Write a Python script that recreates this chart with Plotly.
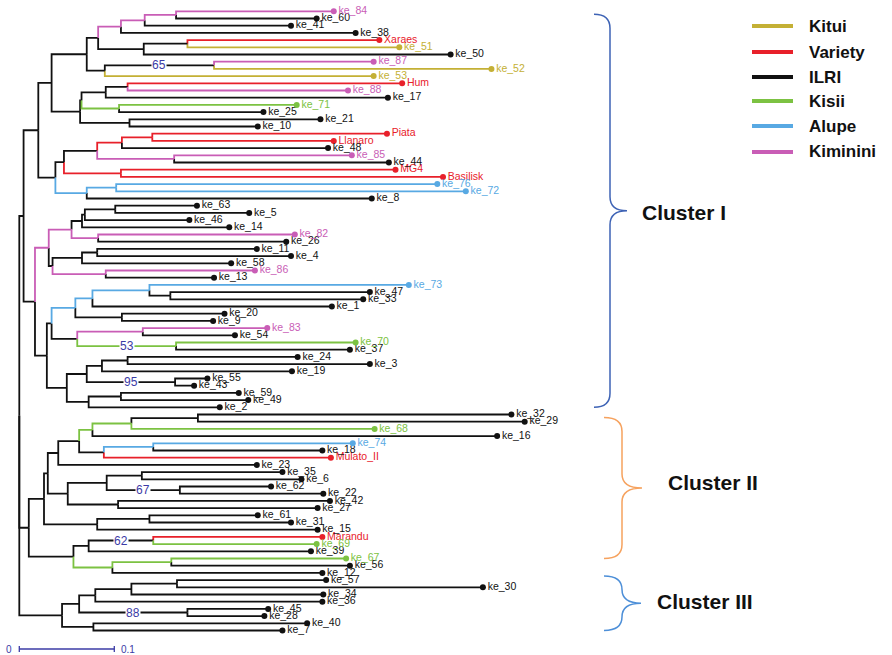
import plotly.graph_objects as go

# ---------------- data ----------------
groups = ["Kitui", "Variety", "ILRI", "Kisii", "Alupe", "Kiminini"]
group_colors = ["#c4b035", "#e8202a", "#111111", "#7cc242", "#58a9e3", "#c95db6"]

# leaves in drawing order (top to bottom), group index, and root-to-tip distance
leaves = ["ke_84", "ke_60", "ke_41", "ke_38", "Xaraes", "ke_51", "ke_50", "ke_87", "ke_52", "ke_53",
          "Hum", "ke_88", "ke_17", "ke_71", "ke_25", "ke_21", "ke_10", "Piata", "Llanaro", "ke_48",
          "ke_85", "ke_44", "MG4", "Basilisk", "ke_76", "ke_72", "ke_8", "ke_63", "ke_5", "ke_46",
          "ke_14", "ke_82", "ke_26", "ke_11", "ke_4", "ke_58", "ke_86", "ke_13", "ke_73", "ke_47",
          "ke_33", "ke_1", "ke_20", "ke_9", "ke_83", "ke_54", "ke_70", "ke_37", "ke_24", "ke_3",
          "ke_19", "ke_55", "ke_43", "ke_59", "ke_49", "ke_2", "ke_32", "ke_29", "ke_68", "ke_16",
          "ke_74", "ke_18", "Mulato_II", "ke_23", "ke_35", "ke_6", "ke_62", "ke_22", "ke_42", "ke_27",
          "ke_61", "ke_31", "ke_15", "Marandu", "ke_69", "ke_39", "ke_67", "ke_56", "ke_12", "ke_57",
          "ke_30", "ke_34", "ke_36", "ke_45", "ke_28", "ke_40", "ke_7"]
leaf_group = [5, 2, 2, 2, 1, 0, 2, 5, 0, 0,
              1, 5, 2, 3, 2, 2, 2, 1, 1, 2,
              5, 2, 1, 1, 4, 4, 2, 2, 2, 2,
              2, 5, 2, 2, 2, 2, 5, 2, 4, 2,
              2, 2, 2, 2, 5, 2, 3, 2, 2, 2,
              2, 2, 2, 2, 2, 2, 2, 2, 3, 2,
              4, 2, 1, 2, 2, 2, 2, 2, 2, 2,
              2, 2, 2, 1, 3, 2, 3, 2, 2, 2,
              2, 2, 2, 2, 2, 2, 2]
leaf_depth = [0.331, 0.313, 0.286, 0.354, 0.379, 0.400, 0.454, 0.373, 0.497, 0.373,
              0.403, 0.346, 0.388, 0.292, 0.257, 0.317, 0.251, 0.387, 0.331, 0.325,
              0.350, 0.389, 0.396, 0.446, 0.440, 0.470, 0.371, 0.187, 0.242, 0.179,
              0.221, 0.290, 0.281, 0.250, 0.286, 0.223, 0.248, 0.205, 0.410, 0.369,
              0.362, 0.329, 0.216, 0.204, 0.261, 0.227, 0.354, 0.348, 0.293, 0.369,
              0.287, 0.198, 0.184, 0.231, 0.241, 0.211, 0.518, 0.532, 0.374, 0.503,
              0.351, 0.319, 0.328, 0.250, 0.277, 0.297, 0.265, 0.320, 0.327, 0.314,
              0.251, 0.286, 0.314, 0.319, 0.313, 0.307, 0.344, 0.348, 0.319, 0.323,
              0.488, 0.320, 0.319, 0.262, 0.258, 0.303, 0.277]

# internal nodes: name, children, root-to-node distance, branch colour group (2 = ILRI/black)
node_names = ["n1", "n2", "n3", "n4", "n5", "n6", "n7", "n8", "n9", "n10",
              "n11", "n12", "n13", "n14", "n15", "n16", "n17", "n18", "n19", "n20",
              "n21", "n22", "n23", "n24", "n25", "n26", "n27", "n28", "n29", "n30",
              "n31", "n32", "n33", "n34", "n35", "n36", "n37", "n38", "n39", "n40",
              "n41", "n42", "n43", "n44", "n45", "n46", "n47", "n48", "n49", "n50",
              "n51", "n52", "n53", "n54", "n55",
              "c1", "c2", "c3", "c4", "c5", "c6", "c7", "c8", "c9", "c10",
              "c11", "c12", "c13", "c14", "c15", "c16", "c17", "c18", "c19", "c20",
              "c21", "c22",
              "d1", "d2", "d3", "d4", "d5", "d6", "d7", "root"]
node_children = [["ke_84", "ke_60"], ["n1", "ke_41"], ["n2", "ke_38"], ["Xaraes", "ke_51"], ["n4", "ke_50"],
                 ["n3", "n5"], ["ke_87", "ke_52"], ["n7", "ke_53"], ["n6", "n8"], ["Hum", "ke_88"],
                 ["n10", "ke_17"], ["ke_71", "ke_25"], ["n11", "n12"], ["ke_21", "ke_10"], ["n13", "n14"],
                 ["n9", "n15"], ["Piata", "Llanaro"], ["n17", "ke_48"], ["ke_85", "ke_44"], ["n18", "n19"],
                 ["MG4", "Basilisk"], ["n20", "n21"], ["ke_76", "ke_72"], ["n23", "ke_8"], ["n22", "n24"],
                 ["n16", "n25"], ["ke_63", "ke_5"], ["n27", "ke_46"], ["n28", "ke_14"], ["ke_82", "ke_26"],
                 ["n29", "n30"], ["ke_11", "ke_4"], ["n32", "ke_58"], ["ke_86", "ke_13"], ["n33", "n34"],
                 ["n31", "n35"], ["ke_47", "ke_33"], ["ke_73", "n37"], ["n38", "ke_1"], ["ke_20", "ke_9"],
                 ["n39", "n40"], ["ke_83", "ke_54"], ["ke_70", "ke_37"], ["n42", "n43"], ["n41", "n44"],
                 ["ke_24", "ke_3"], ["n46", "ke_19"], ["ke_55", "ke_43"], ["n47", "n48"], ["ke_59", "ke_49"],
                 ["n50", "ke_2"], ["n49", "n51"], ["n45", "n52"], ["n36", "n53"], ["n26", "n54"],
                 ["ke_32", "ke_29"], ["c1", "ke_68"], ["c2", "ke_16"], ["ke_74", "ke_18"], ["c4", "Mulato_II"],
                 ["c3", "c5"], ["c6", "ke_23"], ["ke_35", "ke_6"], ["ke_62", "ke_22"], ["c8", "c9"],
                 ["ke_42", "ke_27"], ["c10", "c11"], ["c7", "c12"], ["ke_61", "ke_31"], ["c14", "ke_15"],
                 ["c13", "c15"], ["Marandu", "ke_69"], ["c17", "ke_39"], ["ke_67", "ke_56"], ["c19", "ke_12"],
                 ["c18", "c20"], ["c16", "c21"],
                 ["ke_57", "ke_30"], ["d1", "ke_34"], ["d2", "ke_36"], ["ke_45", "ke_28"], ["d3", "d4"],
                 ["ke_40", "ke_7"], ["d5", "d6"], ["n55", "c22", "d7"]]
node_depth = [0.165, 0.132, 0.107, 0.177, 0.131, 0.083, 0.205, 0.090, 0.071, 0.114,
              0.091, 0.105, 0.0655, 0.116, 0.064, 0.034, 0.140, 0.108, 0.163, 0.082,
              0.107, 0.047, 0.102, 0.071, 0.038, 0.020, 0.101, 0.069, 0.066, 0.083,
              0.055, 0.082, 0.066, 0.091, 0.035, 0.031, 0.159, 0.137, 0.077, 0.108,
              0.059, 0.130, 0.165, 0.061, 0.034, 0.114, 0.087, 0.164, 0.071, 0.107,
              0.073, 0.050, 0.029, 0.0165, 0.0045,
              0.188, 0.118, 0.077, 0.141, 0.089, 0.063, 0.041, 0.129, 0.169, 0.092,
              0.104, 0.051, 0.030, 0.137, 0.082, 0.026, 0.141, 0.073, 0.160, 0.098,
              0.057, 0.010,
              0.166, 0.118, 0.080, 0.177, 0.063, 0.078, 0.045, 0.0]
node_group = [5, 5, 5, 2, 2, 2, 2, 2, 2, 2,
              2, 3, 2, 2, 2, 2, 1, 1, 5, 2,
              1, 2, 4, 4, 2, 2, 2, 2, 2, 5,
              5, 2, 2, 5, 2, 5, 2, 4, 4, 2,
              4, 5, 3, 2, 2, 2, 2, 2, 2, 2,
              2, 2, 2, 2, 2,
              2, 3, 3, 4, 2, 2, 2, 2, 2, 2,
              2, 2, 2, 2, 2, 2, 2, 2, 3, 3,
              2, 2,
              2, 2, 2, 2, 2, 2, 2, 2]

bootstrap_nodes = ["n7", "n43", "n48", "c9", "c17", "d4"]
bootstrap_values = [65, 53, 95, 67, 62, 88]

clusters = ["Cluster I", "Cluster II", "Cluster III"]
cluster_first = ["ke_84", "ke_32", "ke_12"]
cluster_last = ["ke_2", "ke_67", "ke_7"]
cluster_colors = ["#3e63b5", "#f6a25e", "#4d8fd8"]

scale_length = 0.1

# ---------------- layout helpers ----------------
W, H = 892, 655
PX_PER_UNIT = 950.0
ROOT_PX = 19.3
Y0_PX, DY_PX = 11.3, 7.2

x_range = [-ROOT_PX / PX_PER_UNIT, (W - ROOT_PX) / PX_PER_UNIT]
y_range = [(H - Y0_PX) / DY_PX, -Y0_PX / DY_PX]


def px_x(px):
    return px / W


def px_y(py):
    return 1 - py / H


def idx_to_py(i):
    return Y0_PX + DY_PX * i


# ---------------- tree geometry ----------------
depth = {}
group_of = {}
children = {}
for name, g, d in zip(leaves, leaf_group, leaf_depth):
    depth[name] = d
    group_of[name] = g
for name, ch, d, g in zip(node_names, node_children, node_depth, node_group):
    depth[name] = d
    group_of[name] = g
    children[name] = ch

ypos = {}
order = []


def assign(n):
    if n not in children:
        ypos[n] = len(order)
        order.append(n)
        return ypos[n]
    ys = [assign(c) for c in children[n]]
    ypos[n] = (ys[0] + ys[-1]) / 2
    return ypos[n]


assign("root")

segs = {g: ([], []) for g in range(len(groups))}
for p, chs in children.items():
    for c in chs:
        xs, ys = segs[group_of[c]]
        xs += [depth[p], depth[p], depth[c], None]
        ys += [ypos[p], ypos[c], ypos[c], None]

fig = go.Figure()
for g in range(len(groups)):
    xs, ys = segs[g]
    if xs:
        fig.add_trace(go.Scatter(x=xs, y=ys, mode="lines", hoverinfo="skip",
                                 line=dict(color=group_colors[g], width=1.8), showlegend=False))

for g in range(len(groups)):
    names = [l for l in leaves if group_of[l] == g]
    fig.add_trace(go.Scatter(
        x=[depth[l] for l in names], y=[ypos[l] for l in names],
        mode="markers+text", text=names, textposition="middle right",
        marker=dict(color=group_colors[g], size=6),
        textfont=dict(family="Liberation Sans, Arial", size=10.5, color=group_colors[g]),
        showlegend=False, hoverinfo="text"))

# bootstrap values on branches
parent_of = {c: p for p, chs in children.items() for c in chs}
for n, v in zip(bootstrap_nodes, bootstrap_values):
    xm = (depth[n] + depth[parent_of[n]]) / 2
    fig.add_annotation(x=xm, y=ypos[n], text=str(v), showarrow=False,
                       font=dict(family="Liberation Sans, Arial", size=12, color="#3b3ba6"),
                       bgcolor="white", borderpad=0, yanchor="middle")

# scale bar
sb_y = (649 - Y0_PX) / DY_PX
fig.add_trace(go.Scatter(x=[0, scale_length], y=[sb_y, sb_y], mode="lines",
                         line=dict(color="#3b3ba6", width=1.3), hoverinfo="skip", showlegend=False))
for xv in (0, scale_length):
    fig.add_trace(go.Scatter(x=[xv, xv], y=[sb_y - 0.4, sb_y + 0.4], mode="lines",
                             line=dict(color="#3b3ba6", width=1.3), hoverinfo="skip", showlegend=False))
fig.add_annotation(x=0, y=sb_y, text="0", showarrow=False, xanchor="right", yanchor="middle", xshift=-5,
                   font=dict(family="Liberation Sans, Arial", size=10, color="#3b3ba6"))
fig.add_annotation(x=scale_length, y=sb_y, text=str(scale_length), showarrow=False, xanchor="left",
                   yanchor="middle", xshift=5,
                   font=dict(family="Liberation Sans, Arial", size=10, color="#3b3ba6"))

# cluster braces
brace_geom = [(594, 610, 627), (604, 622, 642), (604, 622, 641)]
label_px = [640, 666, 655]
label_dy = [2, -6, -2]
for name, first, last, col, (xh, xs_, xt), lx, dy in zip(clusters, cluster_first, cluster_last,
                                                         cluster_colors, brace_geom, label_px, label_dy):
    yt = idx_to_py(ypos[first]) + 3
    yb = idx_to_py(ypos[last])
    ym = (yt + yb) / 2
    r = min(14, (yb - yt) / 4)
    pts = (f"M {px_x(xh)},{px_y(yt)} Q {px_x(xs_)},{px_y(yt)} {px_x(xs_)},{px_y(yt + r)} "
           f"L {px_x(xs_)},{px_y(ym - r)} Q {px_x(xs_)},{px_y(ym)} {px_x(xt)},{px_y(ym)} "
           f"Q {px_x(xs_)},{px_y(ym)} {px_x(xs_)},{px_y(ym + r)} "
           f"L {px_x(xs_)},{px_y(yb - r)} Q {px_x(xs_)},{px_y(yb)} {px_x(xh)},{px_y(yb)}")
    fig.add_shape(type="path", path=pts, xref="paper", yref="paper",
                  line=dict(color=col, width=1.5))
    fig.add_annotation(x=px_x(lx), y=px_y(ym + dy), xref="paper", yref="paper", text=f"<b>{name}</b>",
                       showarrow=False, xanchor="left", yanchor="middle",
                       font=dict(family="Liberation Sans, Arial", size=21, color="#111111"))

# legend (manual)
legend_y = [26, 52, 77, 101, 126, 152]
for g, ly in zip(range(len(groups)), legend_y):
    fig.add_shape(type="line", xref="paper", yref="paper", x0=px_x(752), x1=px_x(793),
                  y0=px_y(ly), y1=px_y(ly), line=dict(color=group_colors[g], width=4))
    fig.add_annotation(x=px_x(807), y=px_y(ly), xref="paper", yref="paper", text=f"<b>{groups[g]}</b>",
                       showarrow=False, xanchor="left", yanchor="middle",
                       font=dict(family="Liberation Sans, Arial", size=17, color="#111111"))

fig.update_layout(width=W, height=H, margin=dict(l=0, r=0, t=0, b=0),
                  plot_bgcolor="white", paper_bgcolor="white",
                  xaxis=dict(range=x_range, visible=False, fixedrange=True),
                  yaxis=dict(range=y_range, visible=False, fixedrange=True))

fig.write_html("out.html", config={"displayModeBar": False},
               post_script="document.body.style.margin='0';")
